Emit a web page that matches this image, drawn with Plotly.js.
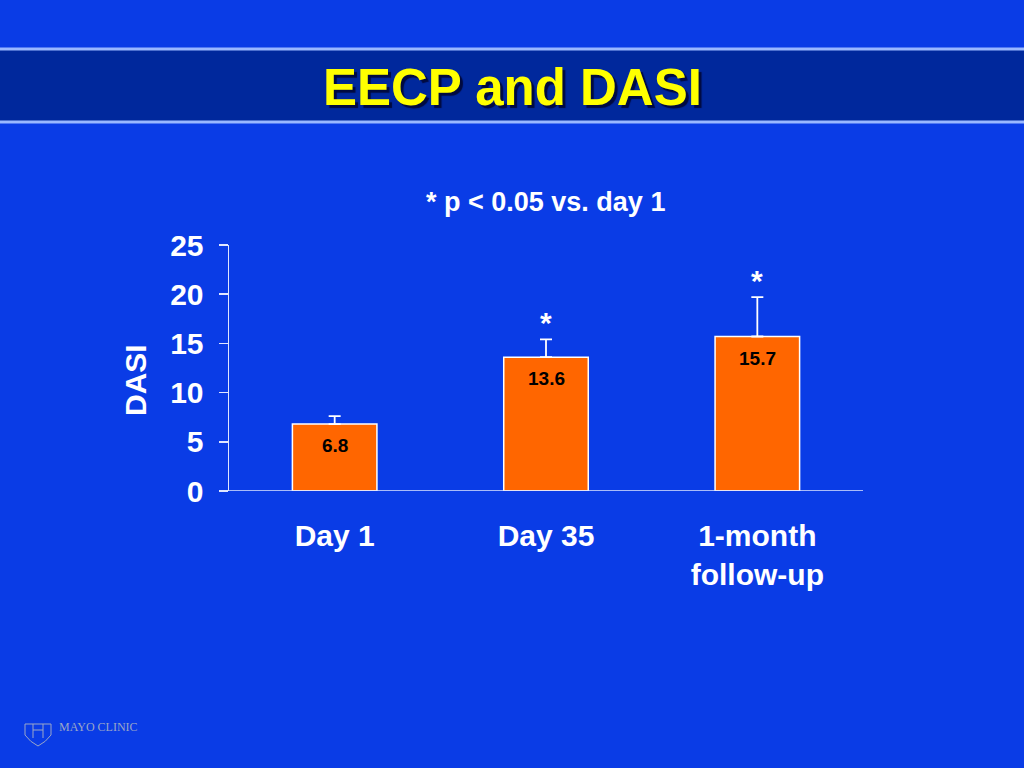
<!DOCTYPE html>
<html><head><meta charset="utf-8">
<script src="https://cdn.plot.ly/plotly-3.0.1.min.js"></script>
<style>html,body{margin:0;padding:0;background:#0a3ce6;}#chart{width:1024px;height:768px;}</style>
</head><body><div id="chart"></div>
<script>
const categories = ['Day 1', 'Day 35', '1-month<br>follow-up'];
const dasiValues = [6.8, 13.6, 15.7];
const errorUpper = [0.8, 1.8, 4.0];
const significance = ['', '*', '*'];
const yTicks = [0, 5, 10, 15, 20, 25];

const BG = '#0a3ce6';
const W = 1024, H = 768;
const px = x => x / W;
const py = y => 1 - y / H;
const FONT = 'Liberation Sans, Arial, Helvetica, sans-serif';

const bar = {
  type: 'bar',
  x: categories,
  y: dasiValues,
  width: 0.4,
  marker: {color: '#ff6600', line: {color: '#ffffff', width: 1.5}},
  error_y: {type: 'data', symmetric: false, array: errorUpper, arrayminus: dasiValues.map(() => 0),
            color: '#ffffff', thickness: 1.8, width: 6},
  hoverinfo: 'none'
};

const annotations = [];
categories.forEach((c, i) => {
  annotations.push({x: c, y: dasiValues[i], xref: 'x', yref: 'y', text: '<b>' + dasiValues[i].toFixed(1) + '</b>',
    showarrow: false, yanchor: 'top', yshift: -9, font: {family: FONT, size: 19, color: '#000000'}});
  if (significance[i]) {
    annotations.push({x: c, y: dasiValues[i] + errorUpper[i], xref: 'x', yref: 'y', text: '<b>' + significance[i] + '</b>',
      showarrow: false, yanchor: 'bottom', yshift: -2, font: {family: FONT, size: 30, color: '#ffffff'}});
  }
});
annotations.push({x: px(512), y: py(87), xref: 'paper', yref: 'paper', text: '<b>EECP and DASI</b>', showarrow: false,
  xanchor: 'center', yanchor: 'middle',
  font: {family: FONT, size: 51, color: '#ffff00', shadow: '3px 3px 1px #000a40'}});
annotations.push({x: px(545), y: py(202), xref: 'paper', yref: 'paper', text: '<b>* p &lt; 0.05 vs. day 1</b>', showarrow: false,
  xanchor: 'center', yanchor: 'middle', font: {family: FONT, size: 27, color: '#ffffff'}});
annotations.push({x: px(135), y: py(380), xref: 'paper', yref: 'paper', text: '<b>DASI</b>', showarrow: false, textangle: -90,
  xanchor: 'center', yanchor: 'middle', font: {family: FONT, size: 30, color: '#ffffff'}});
annotations.push({x: px(57), y: py(727), xref: 'paper', yref: 'paper', text: 'MAYO CLINIC', showarrow: false,
  xanchor: 'left', yanchor: 'middle', font: {family: 'Liberation Serif, Times New Roman, serif', size: 12, color: '#9aa6c8'}});

const P = (x, y) => px(x) + ' ' + py(y);
const shapes = [
  {type: 'rect', xref: 'paper', yref: 'paper', x0: 0, x1: 1, y0: py(122), y1: py(48), fillcolor: '#00289c', line: {width: 0}, layer: 'below'},
  {type: 'line', xref: 'paper', yref: 'paper', x0: 0, x1: 1, y0: py(49), y1: py(49), line: {color: '#9ab8ff', width: 3}},
  {type: 'line', xref: 'paper', yref: 'paper', x0: 0, x1: 1, y0: py(122), y1: py(122), line: {color: '#9ab8ff', width: 3}},
  {type: 'path', xref: 'paper', yref: 'paper',
   path: 'M ' + P(25, 724) + ' L ' + P(25, 735) + ' Q ' + P(30, 742) + ' ' + P(38, 746) +
         ' Q ' + P(46, 742) + ' ' + P(51, 735) + ' L ' + P(51, 724) + ' Z',
   line: {color: '#9aa6c8', width: 1}},
  {type: 'path', xref: 'paper', yref: 'paper',
   path: 'M ' + P(33, 724) + ' L ' + P(33, 738) + ' M ' + P(43, 724) + ' L ' + P(43, 738) + ' M ' + P(33, 730) + ' L ' + P(43, 730),
   line: {color: '#9aa6c8', width: 1}},
  {type: 'line', xref: 'paper', yref: 'y', x0: px(220), x1: px(863), y0: 0, y1: 0, line: {color: '#dfe6ff', width: 1.5}}
];

const layout = {
  width: W, height: H,
  paper_bgcolor: BG, plot_bgcolor: BG,
  margin: {l: 0, r: 0, t: 0, b: 0, autoexpand: false},
  showlegend: false,
  xaxis: {domain: [px(229), px(863)], range: [-0.5, 2.5], type: 'category', showgrid: false, zeroline: false,
    showline: false, ticks: '', ticklabelstandoff: 24,
    tickfont: {family: FONT, size: 30, color: '#ffffff', weight: 'bold'}, fixedrange: true},
  yaxis: {domain: [1 - 491 / H, 1 - 245 / H], range: [0, 25], tickvals: yTicks, ticktext: yTicks.map(String),
    showgrid: false, zeroline: false, showline: true, linecolor: '#dfe6ff', linewidth: 1.5,
    ticks: 'outside', ticklen: 9, tickcolor: '#dfe6ff', tickwidth: 1.5, ticklabelstandoff: 9,
    tickfont: {family: FONT, size: 30, color: '#ffffff', weight: 'bold'}, fixedrange: true},
  shapes: shapes,
  annotations: annotations
};

Plotly.newPlot('chart', [bar], layout, {displayModeBar: false, staticPlot: true});
</script></body></html>
